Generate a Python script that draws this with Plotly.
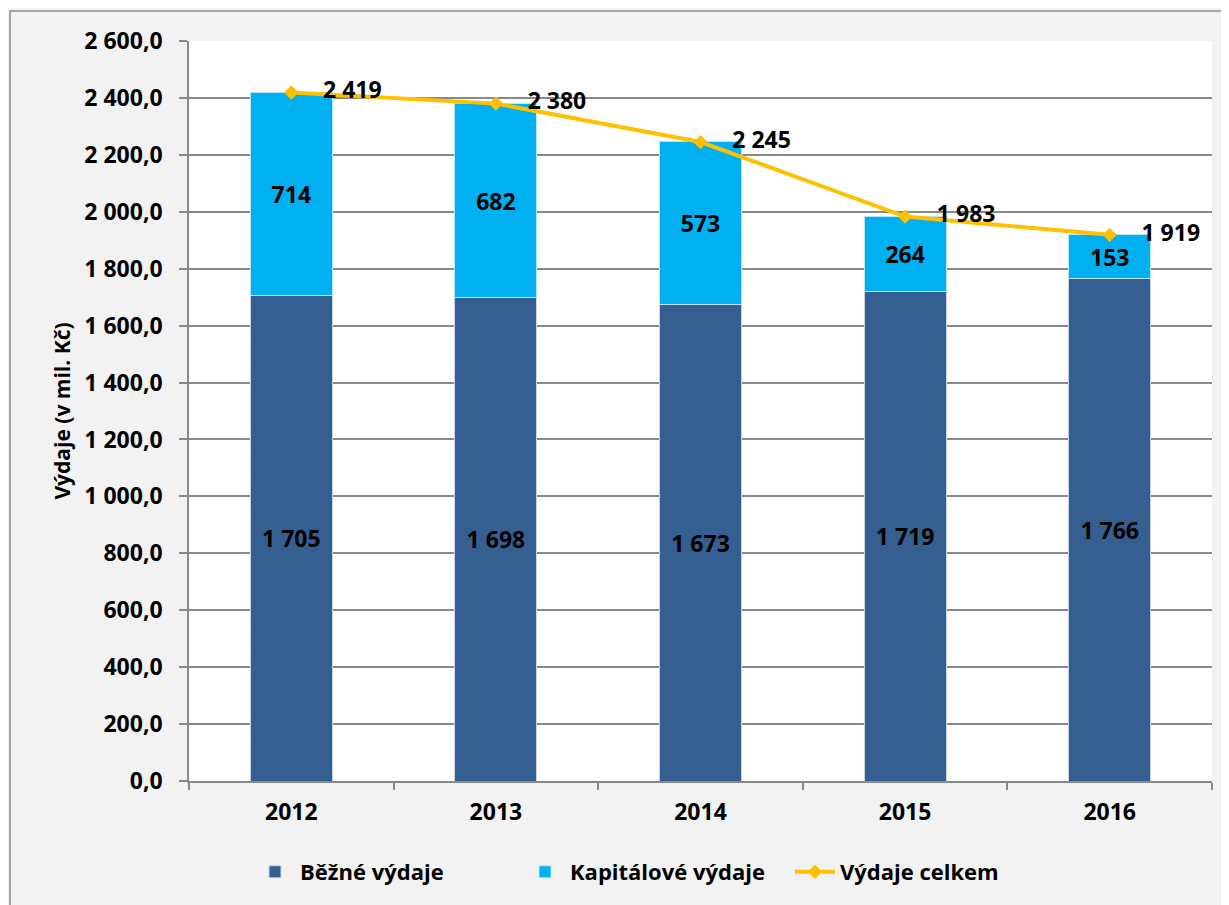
import plotly.graph_objects as go

years = ["2012", "2013", "2014", "2015", "2016"]
bezne = [1705, 1698, 1673, 1719, 1766]
kapitalove = [714, 682, 573, 264, 153]
celkem = [2419, 2380, 2245, 1983, 1919]

FONT = "Open Sans, DejaVu Sans, sans-serif"
OFF = 8  # page body margin
W, H = 1229, 905
L, T = 189 - OFF, 41 - OFF
R = W - (1212 - OFF)
B = H - (781 - OFF)
pw, ph = W - L - R, H - T - B

fig = go.Figure()
fig.add_trace(go.Bar(
    x=years, y=bezne, name="Běžné výdaje",
    marker=dict(color="#365F91", line=dict(color="#c9d4e3", width=1)),
    texttemplate="%{y:,.0f}", textposition="inside", insidetextanchor="middle",
    textangle=0, textfont=dict(family=FONT, size=23, color="black", weight=700),
))
fig.add_trace(go.Bar(
    x=years, y=kapitalove, name="Kapitálové výdaje",
    marker=dict(color="#00B0F0", line=dict(color="#b9e6f7", width=1)),
    texttemplate="%{y:,.0f}", textposition="inside", insidetextanchor="middle",
    textangle=0, textfont=dict(family=FONT, size=23, color="black", weight=700),
))
fig.add_trace(go.Scatter(
    x=years, y=celkem, name="Výdaje celkem", mode="lines+markers+text",
    line=dict(color="#FFC000", width=4),
    marker=dict(symbol="diamond", size=11, color="#FFC000"),
    texttemplate="    %{y:,.0f}", textposition="middle right",
    textfont=dict(family=FONT, size=23, color="black", weight=700),
))

fig.update_layout(
    width=W, height=H,
    margin=dict(l=L, r=R, t=T, b=B, autoexpand=False),
    barmode="stack", bargap=0.6,
    separators=", ",
    paper_bgcolor="#F2F2F2", plot_bgcolor="white",
    font=dict(family=FONT, color="black"),
    uniformtext=dict(minsize=23, mode="show"),
    showlegend=True,
    legend=dict(orientation="h", x=(655 - 189) / 1023, xanchor="center",
                y=-(872 - 781) / 740, yanchor="middle",
                font=dict(family=FONT, size=22, color="black", weight=700),
                bgcolor="rgba(0,0,0,0)", itemwidth=40, traceorder="normal",
                entrywidth=215, entrywidthmode="pixels"),
    shapes=[dict(type="rect", xref="paper", yref="paper",
                 x0=(10 - 189) / pw, x1=(W + 40 - 189) / pw,
                 y0=-(H + 40 - 781) / ph, y1=(781 - 11) / ph,
                 line=dict(color="#8c8c8c", width=1.5), fillcolor="rgba(0,0,0,0)", layer="below")],
)
fig.update_yaxes(
    range=[0, 2600], dtick=200, tickformat=",.1f",
    showgrid=True, gridcolor="#898989", gridwidth=1.5,
    showline=True, linecolor="#898989", linewidth=1.5,
    ticks="outside", ticklen=8, tickcolor="#898989", tickwidth=1.5,
    ticklabelstandoff=12,
    tickfont=dict(family=FONT, size=23, color="black", weight=700),
    title=dict(text="Výdaje (v mil. Kč)", standoff=8,
               font=dict(family=FONT, size=21, color="black", weight=700)),
    zeroline=False,
)
fig.update_xaxes(
    showline=True, linecolor="#898989", linewidth=1.5,
    ticks="outside", ticklen=7, tickcolor="#898989", tickwidth=1.5,
    tickson="boundaries", ticklabelstandoff=10,
    tickfont=dict(family=FONT, size=23, color="black", weight=700),
)

fig.write_html("out.html")
